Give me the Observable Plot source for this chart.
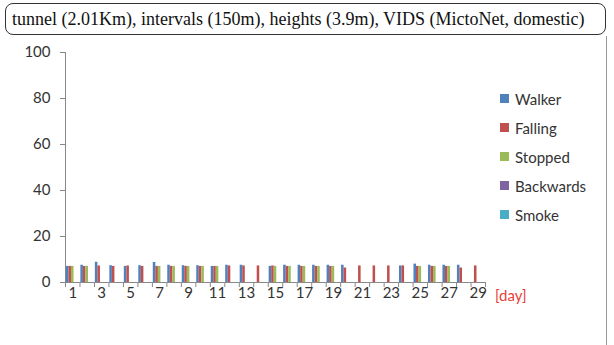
<!DOCTYPE html>
<html>
<head>
<meta charset="utf-8">
<script src="https://cdn.jsdelivr.net/npm/d3@7"></script>
<script src="https://cdn.jsdelivr.net/npm/@observablehq/plot@0.6"></script>
<style>
  html, body { margin: 0; padding: 0; background: #fff; }
  #wrap { position: relative; width: 614px; height: 345px; overflow: hidden; font-family: Lato, "Open Sans", sans-serif; }
  #chart { position: absolute; left: 0; top: 0; }
  #title { position: absolute; left: 5px; top: 3px; width: 593px; height: 30px; border: 1.5px solid #333; border-radius: 8px;
           font-family: "Liberation Serif", "Times New Roman", serif; font-size: 18px; line-height: 30px; padding-left: 6px; color: #111; box-sizing: content-box; }
  #frame { position: absolute; left: 606px; top: 36px; width: 1px; height: 309px; background: #999; }
  #legend { position: absolute; left: 500px; top: 84px; }
  .item { height: 29px; display: flex; align-items: center; font-size: 15px; color: #333; }
  .sw { width: 9px; height: 9px; margin-right: 6px; }
  #unit { position: absolute; left: 495px; top: 286px; font-size: 15px; color: #e8403a; }
</style>
</head>
<body>
<div id="wrap">
  <div id="chart"></div>
  <div id="title">tunnel (2.01Km), intervals (150m), heights (3.9m), VIDS (MictoNet, domestic)</div>
  <div id="frame"></div>
  <div id="legend"></div>
  <div id="unit">[day]</div>
</div>
<script>
const days = d3.range(1, 30);
const seriesNames = ["Walker", "Falling", "Stopped", "Backwards", "Smoke"];
const seriesColors = ["#4F81BD", "#C0504D", "#9BBB59", "#8064A2", "#4BACC6"];
const walker    = [7,7.5,8.8,7.3,7,7.3,8.7,7.5,7.3,7.3,7,7.5,7.5,0,7,7.5,7.5,7.5,7.5,7.5,0,0,0,7.2,8,7.5,7.5,7.5,0];
const falling   = [7,7,7.2,7,7.2,7,7,7,7,7,7,7.2,7.2,7.2,7.2,7,7,7,7,6.3,7.2,7.2,7.2,7.2,7,7,7,6.3,7.2];
const stopped   = [7,7,0,0,0,0,7,7,7,7,7,0,0,0,7,7,7,7,7,0,0,0,0,0,7,7,7,0,0];
const backwards = days.map(() => 0);
const smoke     = days.map(() => 0);
const yTicks = [0, 20, 40, 60, 80, 100];

const valuesBySeries = [walker, falling, stopped, backwards, smoke];
const data = [];
days.forEach((d, i) => seriesNames.forEach((s, j) => data.push({day: d, series: s, value: valuesBySeries[j][i]})));

const W = 614, H = 345, mL = 65, mR = 129;
const bandW = (W - mL - mR) / days.length;

const chart = Plot.plot({
  width: W, height: H,
  marginLeft: mL, marginRight: mR, marginTop: 52, marginBottom: 63,
  style: {fontFamily: "Lato, 'Open Sans', sans-serif", fontSize: "15px", color: "#333", background: "transparent"},
  fx: {domain: days, paddingInner: 0, paddingOuter: 0, round: false, label: null, axis: null},
  x: {domain: seriesNames, paddingInner: 0, paddingOuter: 0.35, round: false, axis: null},
  y: {domain: [0, 100], ticks: yTicks, label: null},
  color: {domain: seriesNames, range: seriesColors},
  marks: [
    Plot.axisY({ticks: yTicks, tickSize: 5, tickPadding: 10, stroke: "#888", label: null}),
    Plot.ruleX([days[0]], {fx: d => d, x: null, y1: 0, y2: 100, dx: -bandW / 2, stroke: "#888"}),
    Plot.barY(data, {fx: "day", x: "series", y: "value", fill: "series"}),
    Plot.ruleY([0], {stroke: "#888"}),
    Plot.ruleX(days, {fx: d => d, x: null, y1: 0, y2: 0, insetBottom: -5, dx: -bandW / 2, stroke: "#888"}),
    Plot.ruleX([days[days.length - 1]], {fx: d => d, x: null, y1: 0, y2: 0, insetBottom: -5, dx: bandW / 2, stroke: "#888"}),
    Plot.text(days.filter(d => d % 2), {fx: d => d, frameAnchor: "bottom", text: d => d, dy: 15, fill: "#333"})
  ]
});
document.getElementById("chart").appendChild(chart);

const legend = document.getElementById("legend");
seriesNames.forEach((s, i) => {
  const it = document.createElement("div");
  it.className = "item";
  it.innerHTML = `<span class="sw" style="background:${seriesColors[i]}"></span>${s}`;
  legend.appendChild(it);
});
</script>
</body>
</html>
